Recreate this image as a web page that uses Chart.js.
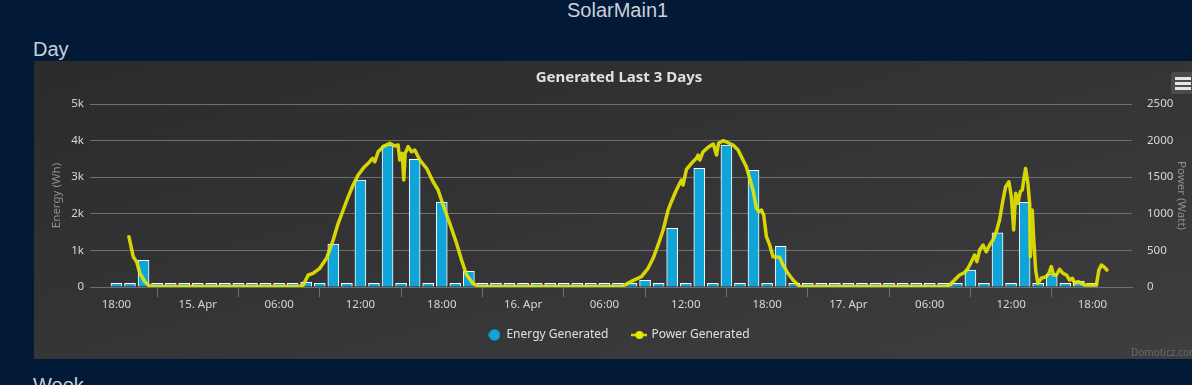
<!DOCTYPE html>
<html>
<head>
<meta charset="utf-8">
<title>SolarMain1</title>
<script src="https://cdn.jsdelivr.net/npm/chart.js@4.4.1/dist/chart.umd.min.js"></script>
<style>
html, body { margin: 0; padding: 0; width: 1192px; height: 385px; overflow: hidden; background: #021a38; }
.head { position: absolute; color: #c9d0d9; font: 20px/24px "Liberation Sans", Arial, sans-serif; white-space: nowrap; }
#panel { position: absolute; left: 34px; top: 61px; width: 1170px; height: 298px; background: linear-gradient(to bottom right, #2b2b2c, #3e3e40); }
#solar { position: absolute; left: 0; top: 0; }
#menu { position: absolute; left: 1137px; top: 11px; width: 24px; height: 22px; background: #4b4b4d; border-radius: 2px; }
#menu span { position: absolute; left: 4px; width: 16px; height: 3px; background: #e6e6e6; }
#credit { position: absolute; left: 1097px; top: 285px; font: 10px/13px "Noto Sans", sans-serif; color: #6a6a6a; white-space: nowrap; }
</style>
</head>
<body>
<div class="head" style="left:567px; top:-2px;">SolarMain1</div>
<div class="head" style="left:33px; top:37px;">Day</div>
<div id="panel">
  <canvas id="solar" width="1170" height="298"></canvas>
  <div id="menu"><span style="top:5px"></span><span style="top:10px"></span><span style="top:15px"></span></div>
  <div id="credit">Domoticz.com</div>
</div>
<div class="head" style="left:33px; top:373px;">Week</div>
<script>
// hours counted from 14 Apr 00:00
const barStartHour = 18; // first bar: 14 Apr 18:00, one bar per hour
const energyWh = [
  100, 100, 730, 100, 100, 100, 100, 100, 100, 100, 100, 100, 100, 100,
  130, 100, 1170, 100, 2920, 100, 3880, 100, 3490, 100, 2320, 100, 430,
  100, 100, 100, 100, 100, 100, 100, 100, 100, 100, 100, 100,
  180, 100, 1600, 100, 3240, 100, 3880, 100, 3190, 100, 1110,
  100, 100, 100, 100, 100, 100, 100, 100, 100, 100, 100, 100, 100,
  460, 100, 1480, 100, 2310, 100, 350, 100, 160, 100
];

const powerTime = [
  18.92, 19.24, 19.49, 19.73, 20.1, 20.42, 20.7, 31.5, 31.78, 32.15, 32.5, 33.0, 33.5, 33.99,
  34.36, 34.73, 35.1, 35.46, 35.83, 36.2, 36.57, 36.89, 37.06, 37.31, 37.68, 38.17, 38.54, 38.78,
  38.9, 39.08, 39.2, 39.3, 39.52, 39.77, 40.01, 40.38, 40.88, 41.36, 41.73, 42.1, 42.59, 43.09,
  43.46, 43.83, 44.3, 44.7, 55.3, 55.62, 56.1, 56.73, 57.22, 57.59, 57.96, 58.33, 58.7, 58.94,
  59.31, 59.68, 59.8, 60.05, 60.42, 60.79, 60.91, 61.03, 61.28, 61.65, 62.03, 62.27, 62.42, 62.75,
  63.12, 63.49, 63.86, 64.22, 64.47, 64.72, 64.96, 65.21, 65.4, 65.58, 65.75, 65.95, 66.19, 66.44,
  66.93, 67.17, 67.54, 67.91, 68.4, 79.2, 79.46, 79.83, 80.2, 80.57, 80.82, 81.07, 81.31, 81.48,
  81.68, 81.93, 82.17, 82.42, 82.66, 82.91, 83.15, 83.4, 83.6, 83.84, 84.02, 84.19, 84.34, 84.5,
  84.68, 84.83, 84.93, 85.07, 85.24, 85.37, 85.42, 85.56, 85.66, 85.81, 85.98, 86.23, 86.6, 86.79,
  86.97, 87.14, 87.34, 87.58, 87.83, 88.08, 88.32, 88.52, 88.69, 88.94, 89.19, 89.43, 90.29, 90.48,
  90.66, 90.9, 91.07
];
const powerWatt = [
  687, 414, 346, 187, 72, 18, 8, 8, 27, 164, 187, 255, 392, 642,
  870, 1052, 1233, 1393, 1530, 1621, 1690, 1758, 1712, 1848, 1917, 1963, 1926, 1940,
  1735, 1826, 1462, 1826, 1917, 1848, 1871, 1735, 1621, 1438, 1325, 1120, 870, 597,
  369, 164, 50, 8, 8, 41, 87, 141, 255, 392, 574, 779, 1052, 1165,
  1325, 1462, 1393, 1608, 1690, 1758, 1803, 1735, 1848, 1908, 1953, 1803, 1963, 1999,
  1971, 1940, 1871, 1735, 1643, 1484, 1325, 1075, 1029, 1052, 984, 687, 574, 414,
  405, 301, 187, 96, 8, 8, 27, 96, 164, 196, 255, 346, 437, 346,
  505, 574, 483, 574, 642, 756, 915, 1188, 1370, 1438, 1233, 779, 1280, 1143,
  1302, 1325, 1462, 1620, 1416, 1143, 414, 1052, 687, 232, 50, 119, 141, 187,
  278, 164, 164, 242, 187, 164, 96, 119, 50, 73, 50, 27, 27, 232,
  301, 269, 232
];

const xTickHours = [18, 24, 30, 36, 42, 48, 54, 60, 66, 72, 78, 84, 90];
const xTickLabels = ['18:00', '15. Apr', '06:00', '12:00', '18:00', '16. Apr', '06:00', '12:00', '18:00', '17. Apr', '06:00', '12:00', '18:00'];
const energyTickLabels = ['0', '1k', '2k', '3k', '4k', '5k'];
const powerTickLabels = ['0', '500', '1000', '1500', '2000', '2500'];

const barColor = '#10a4d8';
const lineColor = 'rgba(232, 232, 0, 0.9)';

const energyPoints = energyWh.map((v, i) => ({x: barStartHour + i, y: v}));
const powerPoints = powerTime.map((t, i) => ({x: t, y: powerWatt[i]}));

// legend symbols like the original: dot for the bars, line with a dot for the power
const dotIcon = document.createElement('canvas');
dotIcon.width = 12; dotIcon.height = 12;
let g = dotIcon.getContext('2d');
g.fillStyle = barColor;
g.beginPath(); g.arc(6, 6, 5.7, 0, Math.PI * 2); g.fill();

const lineIcon = document.createElement('canvas');
lineIcon.width = 16; lineIcon.height = 10;
g = lineIcon.getContext('2d');
g.strokeStyle = lineColor; g.lineWidth = 2.5;
g.beginPath(); g.moveTo(0, 5); g.lineTo(16, 5); g.stroke();
g.fillStyle = '#eaea00';
g.beginPath(); g.arc(8, 5, 4, 0, Math.PI * 2); g.fill();
const legendIcons = [dotIcon, lineIcon];

// the x axis box is kept short so the legend sits where it should;
// widen its clip area afterwards so the tick labels are not cut off
const roomForTickLabels = {
    id: 'roomForTickLabels',
    afterLayout(chart) {
        chart.scales.x.bottom = chart.scales.x.top + 34;
    }
};

Chart.defaults.font.family = "'Noto Sans', sans-serif";

const solarChart = new Chart(document.getElementById('solar'), {
    type: 'bar',
    data: {
        datasets: [
            {
                type: 'bar',
                label: 'Energy Generated',
                data: energyPoints,
                yAxisID: 'y',
                backgroundColor: barColor,
                borderColor: '#ffffff',
                borderWidth: 1,
                barThickness: 11,
                order: 2
            },
            {
                type: 'line',
                label: 'Power Generated',
                data: powerPoints,
                yAxisID: 'y1',
                borderColor: lineColor,
                backgroundColor: lineColor,
                borderWidth: 3.5,
                borderJoinStyle: 'round',
                borderCapStyle: 'round',
                pointRadius: 0,
                tension: 0,
                order: 1
            }
        ]
    },
    plugins: [roomForTickLabels],
    options: {
        responsive: false,
        animation: false,
        devicePixelRatio: 1,
        layout: {padding: {bottom: 8}},
        scales: {
            x: {
                type: 'linear',
                min: 16.05,
                max: 92.92,
                offset: false,
                afterBuildTicks: (axis) => { axis.ticks = xTickHours.map(v => ({value: v})); },
                afterFit: (axis) => { axis.height = 17; },
                ticks: {
                    autoSkip: false,
                    maxRotation: 0,
                    padding: 1,
                    color: '#d6d6d6',
                    font: {size: 11.5},
                    callback: (v) => xTickLabels[xTickHours.indexOf(v)]
                },
                grid: {drawOnChartArea: false, tickLength: 10, color: '#707070'},
                border: {color: '#707070'}
            },
            y: {
                position: 'left',
                min: 0,
                max: 5000,
                afterFit: (axis) => { axis.width = 56; },
                ticks: {
                    stepSize: 1000,
                    padding: 6,
                    color: '#d6d6d6',
                    font: {size: 11.5},
                    callback: (v, i) => energyTickLabels[i]
                },
                grid: {color: '#6f6f6f', drawTicks: false},
                border: {display: false},
                title: {display: true, text: 'Energy (Wh)', color: '#8e8e8e', font: {size: 11.5}, padding: {top: 15.6}}
            },
            y1: {
                position: 'right',
                min: 0,
                max: 2500,
                afterFit: (axis) => { axis.width = 72; },
                ticks: {
                    stepSize: 500,
                    padding: 7,
                    color: '#d6d6d6',
                    font: {size: 11.5},
                    callback: (v, i) => powerTickLabels[i]
                },
                grid: {display: false},
                border: {display: false},
                title: {display: true, text: 'Power (Watt)', color: '#8e8e8e', font: {size: 11.5}, padding: {top: 15.7}}
            }
        },
        plugins: {
            title: {
                display: true,
                text: 'Generated Last 3 Days',
                color: '#e0e0e3',
                font: {size: 15, weight: 'bold'},
                padding: {top: 8, bottom: 17}
            },
            legend: {
                position: 'bottom',
                labels: {
                    usePointStyle: true,
                    padding: 25,
                    color: '#e0e0e3',
                    font: {size: 12},
                    sort: (a, b) => a.datasetIndex - b.datasetIndex,
                    generateLabels: (chart) => {
                        const items = Chart.defaults.plugins.legend.labels.generateLabels(chart);
                        items.forEach(item => { item.pointStyle = legendIcons[item.datasetIndex]; });
                        return items;
                    }
                }
            },
            tooltip: {enabled: false}
        }
    }
});
</script>
</body>
</html>
